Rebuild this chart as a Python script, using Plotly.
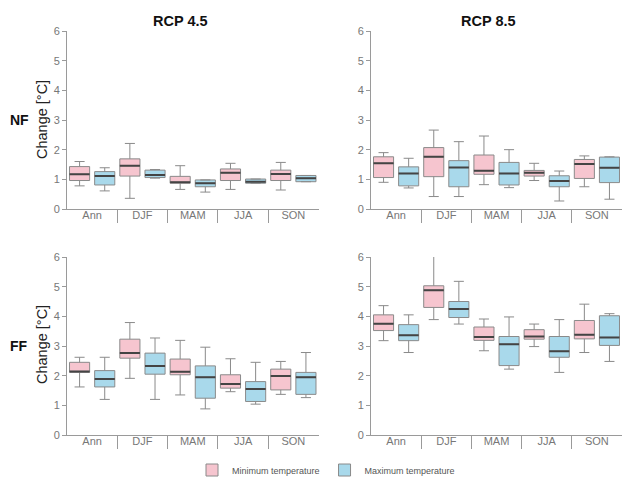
import plotly.graph_objects as go

W, H = 622, 478

SEASONS = ["Ann", "DJF", "MAM", "JJA", "SON"]
YTICKS = [0, 1, 2, 3, 4, 5, 6]

# each tuple: (lower whisker, q1, median, q3, upper whisker)
NF45_MIN = [(0.78, 0.96, 1.17, 1.43, 1.60), (0.36, 1.11, 1.46, 1.69, 2.21), (0.66, 0.87, 0.90, 1.10, 1.46),
            (0.66, 0.96, 1.22, 1.35, 1.54), (0.64, 0.96, 1.18, 1.31, 1.57)]
NF45_MAX = [(0.61, 0.81, 1.11, 1.26, 1.39), (1.04, 1.06, 1.15, 1.31, 1.33), (0.57, 0.75, 0.87, 0.98, 0.98),
            (0.87, 0.87, 0.92, 1.01, 1.01), (0.92, 0.92, 1.04, 1.13, 1.13)]
NF85_MIN = [(0.90, 1.06, 1.54, 1.76, 1.90), (0.42, 1.09, 1.76, 2.07, 2.66), (0.82, 1.17, 1.29, 1.82, 2.46),
            (0.96, 1.11, 1.22, 1.30, 1.54), (0.75, 1.03, 1.52, 1.67, 1.79)]
NF85_MAX = [(0.71, 0.78, 1.20, 1.42, 1.71), (0.42, 0.75, 1.40, 1.63, 2.27), (0.72, 0.81, 1.20, 1.57, 2.00),
            (0.27, 0.75, 0.94, 1.12, 1.28), (0.33, 0.89, 1.39, 1.75, 1.76)]
FF45_MIN = [(1.62, 2.11, 2.14, 2.45, 2.62), (1.91, 2.59, 2.76, 3.23, 3.79), (1.35, 2.03, 2.13, 2.56, 3.19),
            (1.46, 1.58, 1.72, 2.03, 2.57), (1.37, 1.52, 1.99, 2.22, 2.48)]
FF45_MAX = [(1.20, 1.62, 1.89, 2.17, 2.62), (1.20, 2.05, 2.33, 2.76, 3.27), (0.88, 1.24, 1.95, 2.33, 2.96),
            (1.04, 1.13, 1.55, 1.80, 2.45), (1.26, 1.37, 1.95, 2.11, 2.78)]
FF85_MIN = [(3.18, 3.52, 3.75, 4.05, 4.36), (3.89, 4.30, 4.88, 5.03, 6.05), (2.84, 3.19, 3.30, 3.64, 3.91),
            (2.98, 3.23, 3.32, 3.55, 3.74), (2.78, 3.24, 3.38, 3.86, 4.41)]
FF85_MAX = [(2.78, 3.18, 3.36, 3.72, 4.05), (3.74, 3.96, 4.25, 4.50, 5.18), (2.22, 2.34, 3.06, 3.32, 3.98),
            (2.11, 2.62, 2.82, 3.32, 3.89), (2.48, 3.02, 3.29, 4.02, 4.09)]

SERIES_NAMES = ["Minimum temperature", "Maximum temperature"]
FILLS = ["#F6C5CF", "#A9D9EB"]

PANELS = [  # (axis suffix, min data, max data)
    ("", NF45_MIN, NF45_MAX),
    ("2", NF85_MIN, NF85_MAX),
    ("3", FF45_MIN, FF45_MAX),
    ("4", FF85_MIN, FF85_MAX),
]

fig = go.Figure()
xpos = list(range(len(SEASONS)))

for pi, (sfx, dmin, dmax) in enumerate(PANELS):
    for si, data in enumerate([dmin, dmax]):
        lo = [d[0] for d in data]
        q1 = [d[1] for d in data]
        md = [d[2] for d in data]
        q3 = [d[3] for d in data]
        hi = [d[4] for d in data]
        fig.add_trace(go.Box(
            x=xpos, lowerfence=lo, q1=q1, median=md, q3=q3, upperfence=hi,
            name=SERIES_NAMES[si], legendgroup=SERIES_NAMES[si], showlegend=(pi == 0),
            offsetgroup=str(si), fillcolor=FILLS[si],
            line=dict(color="#8a8a8a", width=1), whiskerwidth=0.5,
            xaxis="x" + sfx, yaxis="y" + sfx, hoverinfo="skip",
        ))
        fig.add_trace(go.Box(
            x=xpos, lowerfence=md, q1=md, median=md, q3=md, upperfence=md,
            name=SERIES_NAMES[si], legendgroup=SERIES_NAMES[si], showlegend=False,
            offsetgroup=str(si), fillcolor="rgba(0,0,0,0)",
            line=dict(color="#444444", width=2), whiskerwidth=0,
            xaxis="x" + sfx, yaxis="y" + sfx, hoverinfo="skip",
        ))

xdom_l = [67 / W, 318.5 / W]
xdom_r = [371 / W, 1.0]
ydom_t = [1 - 209 / H, 1 - 31 / H]
ydom_b = [1 - 435 / H, 1 - 257 / H]

axcol = "#9a9a9a"
tickfont = dict(family="Liberation Sans, Arial", size=11, color="#777777")


def xax(dom, anchor):
    return dict(domain=dom, anchor=anchor, range=[-0.5, 4.5], tickmode="array", tickvals=xpos,
                ticktext=SEASONS, ticks="", showline=True, linecolor=axcol, linewidth=1,
                showgrid=False, zeroline=False, tickfont=tickfont, fixedrange=True,
                automargin=False, ticklabelstandoff=-4,
                minor=dict(tickmode="array", tickvals=[0.5, 1.5, 2.5, 3.5], ticks="outside",
                           ticklen=13, tickcolor=axcol, tickwidth=1, showgrid=False))


def yax(dom, anchor):
    return dict(domain=dom, anchor=anchor, range=[0, 6], tickmode="array", tickvals=YTICKS,
                ticks="outside", ticklen=4, tickcolor=axcol, showline=True, linecolor=axcol,
                linewidth=1, showgrid=False, zeroline=False, tickfont=tickfont, fixedrange=True,
                automargin=False)


annots = []


def ann(text, px, py, size, bold=False, angle=0, color="#111111"):
    annots.append(dict(text=("<b>%s</b>" % text) if bold else text, x=px / W, y=1 - py / H,
                       xref="paper", yref="paper", showarrow=False, textangle=angle,
                       xanchor="center", yanchor="middle",
                       font=dict(family="Liberation Sans, Arial", size=size, color=color)))


ann("RCP 4.5", 180, 21, 14.5, bold=True)
ann("RCP 8.5", 488, 21, 14.5, bold=True)
ann("NF", 19, 120, 14, bold=True)
ann("FF", 19, 346, 14, bold=True)
ann("Change [°C]", 42, 120, 14.5, angle=-90, color="#222222")
ann("Change [°C]", 42, 345, 14.5, angle=-90, color="#222222")

fig.update_layout(
    width=W, height=H, margin=dict(l=0, r=0, t=0, b=0, autoexpand=False),
    paper_bgcolor="white", plot_bgcolor="white",
    boxmode="group", boxgap=0, boxgroupgap=0.2,
    xaxis=xax(xdom_l, "y"), yaxis=yax(ydom_t, "x"),
    xaxis2=xax(xdom_r, "y2"), yaxis2=yax(ydom_t, "x2"),
    xaxis3=xax(xdom_l, "y3"), yaxis3=yax(ydom_b, "x3"),
    xaxis4=xax(xdom_r, "y4"), yaxis4=yax(ydom_b, "x4"),
    annotations=annots,
    showlegend=True,
    legend=dict(orientation="h", x=326 / W, y=1 - 470 / H, xanchor="center", yanchor="middle",
                font=dict(family="Liberation Sans, Arial", size=9, color="#555555"),
                bgcolor="rgba(0,0,0,0)", itemwidth=30, tracegroupgap=0),
)

fig.write_html("out.html", config={"displayModeBar": False},
               post_script="document.body.style.margin='0';document.body.style.overflow='hidden';")
